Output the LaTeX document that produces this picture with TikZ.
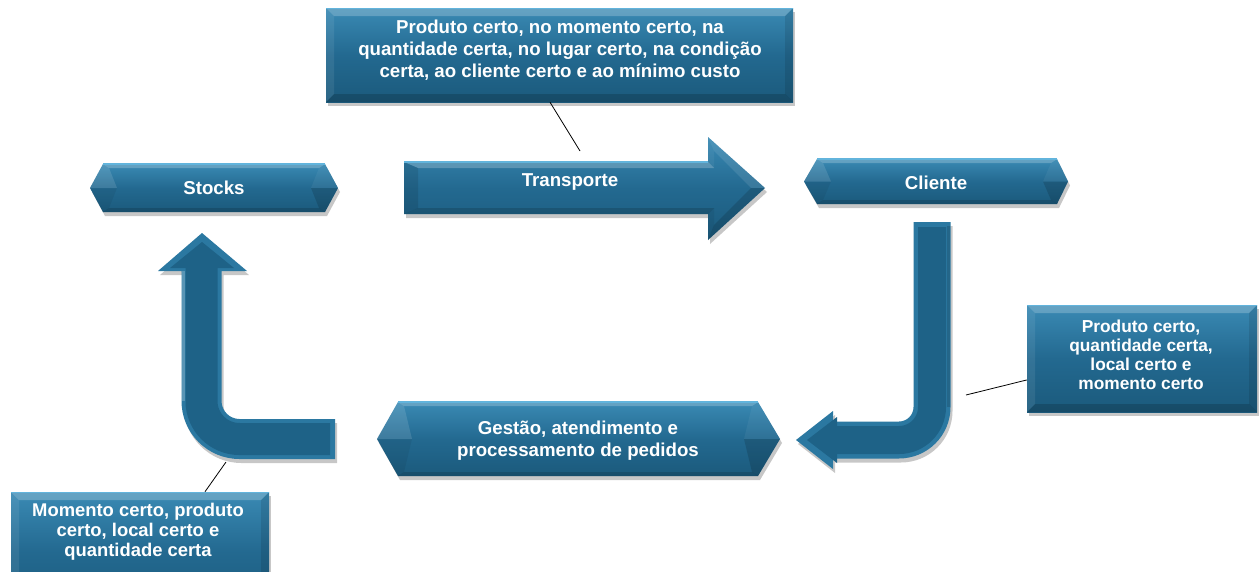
\documentclass[tikz,border=0pt]{standalone}
\usepackage{fontspec}
\setmainfont{Liberation Sans}
\usetikzlibrary{shadows,calc}
\definecolor{bTop}{HTML}{3A8AB4}
\definecolor{bMid}{HTML}{236990}
\definecolor{bBot}{HTML}{1B5A7C}
\definecolor{bEdge}{HTML}{62B4DC}
\definecolor{bBev}{HTML}{2B78A1}
\definecolor{bMain}{HTML}{1E6287}
\tikzset{
  body/.style={top color=bTop, bottom color=bBot, middle color=bMid, draw=none},
  shad/.style={drop shadow={shadow xshift=1.5pt, shadow yshift=-3pt, opacity=.22, fill=black}},
  lbl/.style={text=white, font=\bfseries\fontsize{14}{16.7}\selectfont, align=center, inner sep=0pt},
  lblr/.style={lbl, font=\bfseries\fontsize{13}{14.3}\selectfont},
  lblb/.style={lbl, font=\bfseries\fontsize{13.8}{15}\selectfont},
  callout/.style={draw=black, line width=0.6pt},
  facets/.style={path picture={
    \path (path picture bounding box.north west) coordinate (pnw)
          (path picture bounding box.north east) coordinate (pne)
          (path picture bounding box.south west) coordinate (psw)
          (path picture bounding box.south east) coordinate (pse);
    \fill[white,opacity=.22] (pnw) -- (pne) -- ([shift={(-6pt,-6pt)}]pne) -- ([shift={(6pt,-6pt)}]pnw) -- cycle;
    \fill[white,opacity=.08] (pnw) -- ([shift={(6pt,-6pt)}]pnw) -- ([shift={(6pt,6pt)}]psw) -- (psw) -- cycle;
    \fill[black,opacity=.10] (pne) -- ([shift={(-6pt,-6pt)}]pne) -- ([shift={(-6pt,6pt)}]pse) -- (pse) -- cycle;
    \fill[black,opacity=.16] (psw) -- ([shift={(6pt,6pt)}]psw) -- ([shift={(-6pt,6pt)}]pse) -- (pse) -- cycle;
    \draw[bEdge,line width=0.8pt] (pnw) -- (pne);
  }},
  boxnode/.style={rectangle, inner sep=0pt, draw=none, body, shad, facets},
}
\newcommand\hexshape[6]{%
  \pgfmathsetmacro\hym{(#5+#6)/2}
  \path[body,shad] (#1,\hym) -- (#2,#5) -- (#3,#5) -- (#4,\hym) -- (#3,#6) -- (#2,#6) -- cycle;
  \coordinate (HA) at (#1,\hym); \coordinate (HB) at (#2,#5); \coordinate (HC) at (#3,#5);
  \coordinate (HD) at (#4,\hym); \coordinate (HE) at (#3,#6); \coordinate (HF) at (#2,#6);
  \coordinate (ha) at (#2+14,\hym); \coordinate (hb) at (#2+6,#5+4); \coordinate (hc) at (#3-6,#5+4);
  \coordinate (hd) at (#3-14,\hym); \coordinate (he) at (#3-6,#6-4); \coordinate (hf) at (#2+6,#6-4);
  \fill[white,opacity=.12] (HA) -- (HB) -- (hb) -- (ha) -- cycle;
  \fill[white,opacity=.22] (HB) -- (HC) -- (hc) -- (hb) -- cycle;
  \fill[white,opacity=.05] (HC) -- (HD) -- (hd) -- (hc) -- cycle;
  \fill[black,opacity=.14] (HD) -- (HE) -- (he) -- (hd) -- cycle;
  \fill[black,opacity=.14] (HE) -- (HF) -- (hf) -- (he) -- cycle;
  \fill[black,opacity=.06] (HF) -- (HA) -- (ha) -- (hf) -- cycle;
  \draw[bEdge,line width=0.8pt] (HB) -- (HC);
}
\begin{document}
\begin{tikzpicture}[x=0.75pt,y=-0.75pt]
\fill[white] (0,0) rectangle (1259,571);
\useasboundingbox (0,0) rectangle (1259,571);
\clip (0,0) rectangle (1259,571);

% hexagons
\hexshape{90}{103}{325}{338}{164}{212}
\hexshape{804}{817}{1057}{1068}{159}{204}
\hexshape{377}{398}{758}{780}{402}{476}

% Transporte block arrow
\path[body,shad] (404,162) -- (708,162) -- (708,137) -- (765,188) -- (708,240) -- (708,214) -- (404,214) -- cycle;
\coordinate (O1) at (404,162); \coordinate (O2) at (708,162); \coordinate (O3) at (708,137);
\coordinate (O4) at (765,188); \coordinate (O5) at (708,240); \coordinate (O6) at (708,214);
\coordinate (O7) at (404,214);
\coordinate (I1) at (418,168); \coordinate (I2) at (714,168); \coordinate (I3) at (714,151);
\coordinate (I4) at (751,188); \coordinate (I5) at (714,225); \coordinate (I6) at (714,208);
\coordinate (I7) at (418,208);
\fill[white,opacity=.22] (O1) -- (O2) -- (I2) -- (I1) -- cycle;
\fill[white,opacity=.05] (O2) -- (O3) -- (I3) -- (I2) -- cycle;
\fill[white,opacity=.10] (O3) -- (O4) -- (I4) -- (I3) -- cycle;
\fill[black,opacity=.14] (O4) -- (O5) -- (I5) -- (I4) -- cycle;
\fill[black,opacity=.06] (O5) -- (O6) -- (I6) -- (I5) -- cycle;
\fill[black,opacity=.14] (O6) -- (O7) -- (I7) -- (I6) -- cycle;
\fill[black,opacity=.10] (O7) -- (O1) -- (I1) -- (I7) -- cycle;
\draw[bEdge,line width=0.8pt] (O1) -- (O2);

% J arrow (Cliente -> Gestao)
\path[fill=bBev,shad] (913.5,222) -- (950.5,222) -- (950.5,407) arc[start angle=0,end angle=90,radius=51.5]
  -- (833,458.5) -- (833,469) -- (796,440) -- (833,411) -- (833,421.5) -- (899,421.5)
  arc[start angle=90,end angle=0,radius=14.5] -- cycle;
\draw[bMain,line width=21pt] (932,227) -- (932,407) arc[start angle=0,end angle=90,radius=33] -- (833,440);
\fill[bMain] (837,417) -- (807,440) -- (837,463) -- cycle;
\draw[black,opacity=.15,line width=2.5pt] (948.5,226) -- (948.5,407);

% L arrow (Gestao -> Stocks)
\path[fill=bBev,shad] (181.5,271) -- (181.5,401) arc[start angle=180,end angle=90,radius=58]
  -- (335,459) -- (335,419) -- (239.5,419) arc[start angle=90,end angle=180,radius=18]
  -- (221.5,271) -- (247,271) -- (202,233) -- (158,271) -- cycle;
\draw[bMain,line width=24pt] (330,439) -- (239.5,439) arc[start angle=90,end angle=180,radius=38] -- (201.5,266);
\fill[bMain] (170,268) -- (202,242) -- (234,268) -- cycle;
\draw[white,opacity=.22,line width=2.5pt] (183.5,271) -- (183.5,401);

% rectangular boxes
\node[boxnode, minimum width=350.25pt, minimum height=70.5pt] (q1) at (559.5,55) {};
\node[boxnode, minimum width=172.5pt, minimum height=80.25pt] (q2) at (1142,358.5) {};
\node[boxnode, minimum width=193.5pt, minimum height=90pt] (q3) at (140,552) {};

% labels
\node[lbl] (stocks) at (214,188) {Stocks};
\node[lbl] (transp) at (570,182) {Transporte};
\node[lbl] (cliente) at (936,183) {Cliente};
\node[lbl] (gestao) at (578,441) {Gestão, atendimento e\\processamento de pedidos};
\node[lbl] (q1t) at (560,50) {Produto certo, no momento certo, na\\quantidade certa, no lugar certo, na condição\\certa, ao cliente certo e ao mínimo custo};
\node[lblr] (q2t) at (1141,355) {Produto certo,\\quantidade certa,\\local certo e\\momento certo};
\node[lblb] (q3t) at (138,532) {Momento certo, produto\\certo, local certo e\\quantidade certa};

% callout lines
\coordinate (k1) at (580,151);
\coordinate (k2) at (966,395);
\coordinate (k3) at (226,462);
\draw[callout] ([xshift=-7.1pt]q1.south) -- (k1);
\draw[callout] ([yshift=-16.1pt]q2.west) -- (k2);
\draw[callout] ([xshift=48.75pt]q3.north) -- (k3);
\end{tikzpicture}
\end{document}
